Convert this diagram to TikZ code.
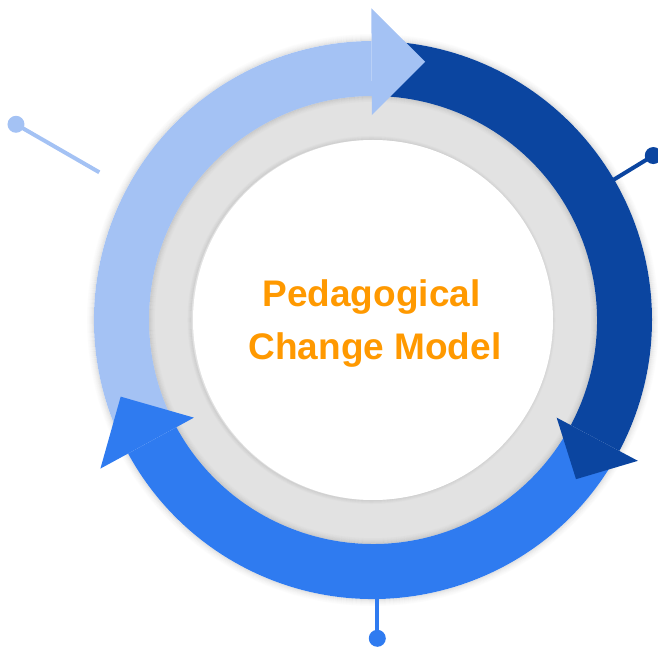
\documentclass[tikz,border=0pt]{standalone}
\usepackage{fontspec}
\setmainfont{Liberation Sans}
\definecolor{lightarc}{HTML}{A4C2F4}
\definecolor{darkarc}{HTML}{0B45A0}
\definecolor{midarc}{HTML}{2F7BF0}
\definecolor{ringgray}{HTML}{E2E2E2}
\definecolor{titleorange}{HTML}{FF9900}
\begin{document}
\begin{tikzpicture}[x=1pt,y=1pt,
  shadowline/.style={black,opacity=#1,line width=1.05pt},
  pinline/.style={line width=4pt},
  pindot/.style={circle,inner sep=0pt,minimum size=17pt,fill=#1},
  titletext/.style={text=titleorange,font=\bfseries\fontsize{37}{44}\selectfont,anchor=base,inner sep=0pt}]
\useasboundingbox (-373,-327) rectangle (285,320);
% outer soft shadow of the arrow ring
\foreach \i/\o in {1/0.10,2/0.08,3/0.06,4/0.045,5/0.03,6/0.02,7/0.01}{
  \draw[shadowline=\o] (0,0) circle[radius=278.5+\i];
}
% gray ring
\fill[ringgray] (0,0) circle[radius=226];
\foreach \i/\o in {1/0.09,2/0.07,3/0.05,4/0.035,5/0.02,6/0.01}{
  \draw[shadowline=\o] (0,0) circle[radius=224.5-\i];
}
\foreach \i/\o in {1/0.07,2/0.05,3/0.03,4/0.015}{
  \draw[shadowline=\o] (-1.5,0) circle[radius=179.5+\i];
}
\fill[white] (0,0) circle[radius=180];
% pins
\coordinate (e1) at (-273.7,147.7);
\node[pindot=lightarc] (p1) at (-357,195.7) {};
\draw[pinline,lightarc] (e1) -- (p1.center);
\coordinate (e2) at (30.2:270);
\node[pindot=darkarc] (p2) at (30.4:325) {};
\draw[pinline,darkarc] (e2) -- (p2.center);
\coordinate (e3) at (4.3,-270);
\node[pindot=midarc] (p3) at (4.3,-318.3) {};
\draw[pinline,midarc] (e3) -- (p3.center);
% shafts
\fill[lightarc] (206:279) arc[start angle=206,end angle=90.3,radius=279]
  -- (90.3:224) arc[start angle=90.3,end angle=206,radius=224] -- cycle;
\fill[darkarc] (88:279) arc[start angle=88,end angle=-28,radius=279]
  -- (-28:224) arc[start angle=-28,end angle=88,radius=224] -- cycle;
\fill[midarc] (-30:279) arc[start angle=-30,end angle=-151.4,radius=279]
  -- (-151.4:224) arc[start angle=-151.4,end angle=-30,radius=224] -- cycle;
% heads
\fill[lightarc] (90.3:205) -- (90.3:311.7) -- (78.6:263.5) -- cycle;
\fill[darkarc] (-28:208) -- (-28:300) -- (-38.1:258) -- cycle;
\fill[midarc] (208.6:204) -- (208.6:310.5) -- (196.9:263.7) -- cycle;
% title
\node[titletext] (t1) at (-1.5,13) {Pedagogical};
\node[titletext] (t2) at (2,-40) {Change Model};
\end{tikzpicture}
\end{document}
